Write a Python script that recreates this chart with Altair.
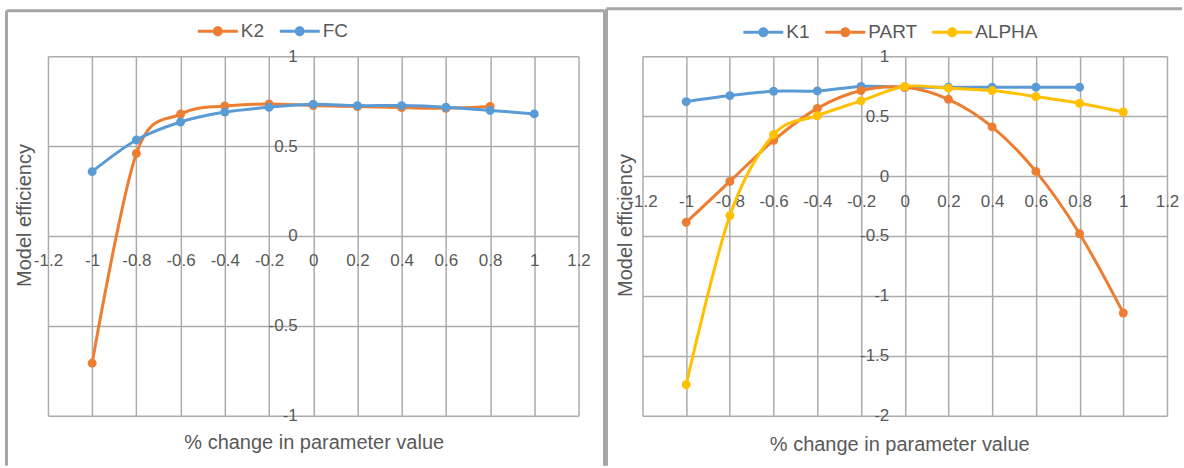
import altair as alt
import pandas as pd

# Relative change applied to each parameter
pct_change = [-1.0, -0.8, -0.6, -0.4, -0.2, 0.0, 0.2, 0.4, 0.6, 0.8, 1.0]

# Model efficiency, first set of parameters
k2 = [-0.707, 0.459, 0.678, 0.723, 0.734, 0.725, 0.720, 0.714, 0.710, 0.720]
fc = [0.358, 0.534, 0.634, 0.689, 0.716, 0.733, 0.725, 0.725, 0.716, 0.698, 0.679]

# Model efficiency, second set of parameters
k1 = [0.620, 0.671, 0.707, 0.710, 0.747, 0.740, 0.741, 0.741, 0.741, 0.741]
part = [-0.386, -0.045, 0.297, 0.564, 0.713, 0.740, 0.640, 0.410, 0.039, -0.481, -1.142]
alpha = [-1.740, -0.330, 0.345, 0.503, 0.627, 0.747, 0.733, 0.713, 0.663, 0.607, 0.534]

x_ticks = [-1.2, -1.0, -0.8, -0.6, -0.4, -0.2, 0.0, 0.2, 0.4, 0.6, 0.8, 1.0, 1.2]
y_ticks_left = [-1.0, -0.5, 0.0, 0.5, 1.0]
y_ticks_right = [-2.0, -1.5, -1.0, -0.5, 0.0, 0.5, 1.0]

ORANGE = "#ED7D31"
BLUE = "#5B9BD5"
YELLOW = "#FFC000"
GRID = "#ABABAB"
TEXT = "#595959"
FRAME = "#A6A6A6"
FONT = "Liberation Sans"

# line-with-marker legend glyph, drawn in a [-1, 1] box
LEGEND_GLYPH = (
    "M-1,-0.075L-0.25,-0.075L-0.25,0.075L-1,0.075Z "
    "M0.25,-0.075L1,-0.075L1,0.075L0.25,0.075Z "
    "M0.25,0A0.25,0.25,0,1,1,-0.25,0A0.25,0.25,0,1,1,0.25,0Z"
)

PLOT_H = 360


def long_table(series):
    rows = []
    for name, values in series:
        for x, v in zip(pct_change, values):
            rows.append({"change": x, "efficiency": v, "series": name})
    return pd.DataFrame(rows)


def frame_layer(edges):
    layers = []
    for e in edges:
        enc = {k: alt.value(v) for k, v in e.items()}
        layers.append(
            alt.Chart(pd.DataFrame({"d": [0]}))
            .mark_rule(color=FRAME, strokeWidth=3, strokeCap="butt")
            .encode(**enc)
        )
    return layers


def panel(series, colors, y_ticks, width, y_zero_px, title_pos, legend_pos, edges):
    df = long_table(series)
    names = [s[0] for s in series]
    x_mid = width / 2.0

    x_enc = alt.X(
        "change:Q",
        scale=alt.Scale(domain=[-1.2, 1.2], nice=False, zero=False),
        axis=alt.Axis(
            values=x_ticks,
            labelExpr="'' + datum.value",
            grid=True,
            gridColor=GRID,
            gridWidth=1.5,
            domain=False,
            ticks=False,
            labelFlush=False,
            labelOverlap=False,
            labelPadding=17,
            offset=-(PLOT_H - y_zero_px),
            title="% change in parameter value",
            titleX=title_pos["xt_x"],
            titleY=title_pos["xt_y"],
            titleBaseline="middle",
            titleAlign="center",
        ),
    )
    y_enc = alt.Y(
        "efficiency:Q",
        scale=alt.Scale(domain=[min(y_ticks), max(y_ticks)], nice=False, zero=False),
        axis=alt.Axis(
            values=y_ticks,
            labelExpr="'' + datum.value",
            grid=True,
            gridColor=GRID,
            gridWidth=1.5,
            domain=False,
            ticks=False,
            labelFlush=False,
            labelOverlap=False,
            labelPadding=16,
            offset=-x_mid,
            title="Model efficiency",
            titleAngle=270,
            titleX=title_pos["yt_x"] - x_mid,
            titleY=title_pos["yt_y"],
            titleBaseline="middle",
            titleAlign="center",
        ),
    )
    color_enc = alt.Color(
        "series:N",
        scale=alt.Scale(domain=names, range=colors),
        legend=alt.Legend(
            orient="none",
            direction="horizontal",
            legendX=legend_pos[0],
            legendY=legend_pos[1],
            title=None,
            symbolType=LEGEND_GLYPH,
            symbolSize=1600,
            symbolStrokeWidth=0,
            symbolOpacity=1,
            labelFontSize=19,
            labelColor=TEXT,
            labelFont=FONT,
            labelOffset=3,
            columnPadding=15,
        ),
    )

    layers = []
    for name in names:
        sub = alt.Chart(df).transform_filter(alt.datum.series == name)
        layers.append(
            sub.mark_line(interpolate="cardinal", strokeWidth=3).encode(
                x=x_enc, y=y_enc, color=color_enc
            )
        )
        layers.append(
            sub.mark_circle(size=80, opacity=1).encode(x=x_enc, y=y_enc, color=color_enc)
        )
    layers += frame_layer(edges)
    return alt.layer(*layers).properties(width=width, height=PLOT_H)


# plot tops sit at y=56; left plot starts at x=48, right at x=642
left = panel(
    [("K2", k2), ("FC", fc)],
    [ORANGE, BLUE],
    y_ticks_left,
    531,
    180,
    {"xt_x": 266, "xt_y": 207, "yt_x": -23, "yt_y": 159},
    (150, -45),
    [
        {"x": -41.5, "x2": 557, "y": -45.5},
        {"x": -41.5, "y": -45.5, "y2": 410},
        {"x": 557, "y": -45.5, "y2": 410},
    ],
)

right = panel(
    [("K1", k1), ("PART", part), ("ALPHA", alpha)],
    [BLUE, ORANGE, YELLOW],
    y_ticks_right,
    525,
    120,
    {"xt_x": 257, "xt_y": 269, "yt_x": -17, "yt_y": 169},
    (101, -44),
    [
        {"x": -36, "x2": 540, "y": -47.5},
        {"x": -36, "y": -47.5, "y2": 410},
    ],
)

chart = (
    alt.hconcat(left, right, spacing=-2)
    .resolve_scale(color="independent")
    .resolve_legend(color="independent")
    .properties(padding={"left": 5, "top": 7, "right": 0, "bottom": 0})
    .configure_view(stroke=None)
    .configure_axis(
        labelFont=FONT,
        labelFontSize=17,
        labelColor=TEXT,
        titleFont=FONT,
        titleFontSize=20,
        titleFontWeight="normal",
        titleColor=TEXT,
    )
)

chart.save("out.html", embed_options={"renderer": "svg", "actions": False})
